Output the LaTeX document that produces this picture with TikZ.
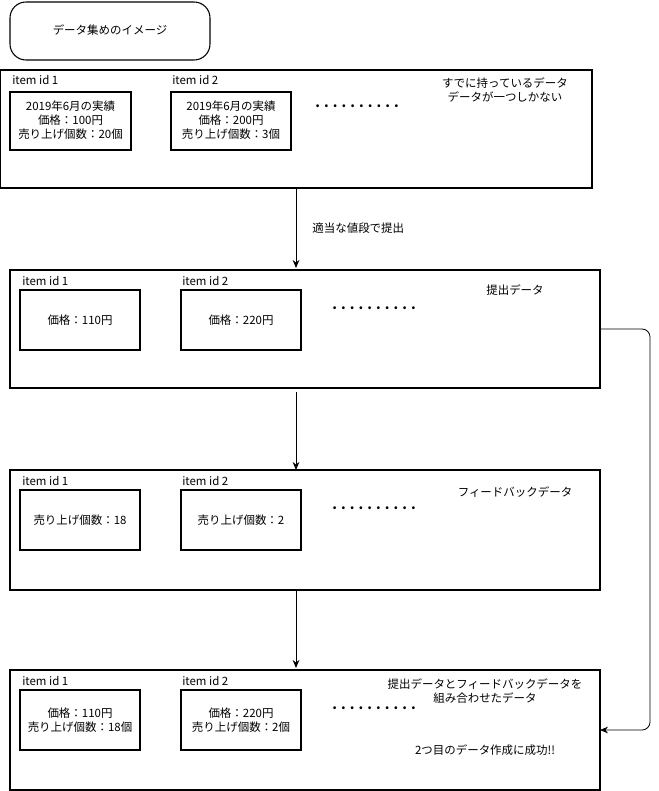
\documentclass[tikz,border=0pt]{standalone}
\usepackage{fontspec}
\setmainfont{Noto Sans CJK JP}
\usetikzlibrary{arrows.meta}
\begin{document}
\begin{tikzpicture}[x=0.75pt,y=-0.75pt,
 box/.style={draw,line width=0.8pt},
 t/.style={font=\fontsize{8.6pt}{10.3pt}\selectfont,inner sep=0pt,align=center},
 l/.style={t,anchor=west},
 dots/.style={font=\fontsize{10pt}{12pt}\bfseries\selectfont,inner sep=0pt},
 arr/.style={-{Stealth[length=6pt,width=5pt]},line width=0.6pt}]
\useasboundingbox (0,0) rectangle (659,791);
\draw[box,rounded corners=12pt] (10,2) rectangle (210,60);
\node[t] (title) at (110,30) {データ集めのイメージ};
% box 1
\draw[box] (0,70) rectangle (592,188);
\node[l] at (12,80) {item id 1};
\node[l] at (172,80) {item id 2};
\draw[box] (10,92) rectangle (131,150); \draw[box] (171,92) rectangle (291,150);
\node[t] at (70.5,120) {2019年6月の実績\\価格：100円\\売り上げ個数：20個};
\node[t] at (231,120) {2019年6月の実績\\価格：200円\\売り上げ個数：3個};
\node[dots] at (357,106) {. . . . . . . . . .};
\node[t] at (505,90) {すでに持っているデータ\\データが一つしかない};
% box 2
\draw[box] (10,270) rectangle (600,388);
\node[l] at (22,281) {item id 1};
\node[l] at (182,281) {item id 2};
\draw[box] (20,290) rectangle (140,350); \draw[box] (181,290) rectangle (301,350);
\node[t] at (80,320) {価格：110円};
\node[t] at (241,320) {価格：220円};
\node[dots] at (374,308) {. . . . . . . . . .};
\node[t] at (515,290) {提出データ};
% box 3
\draw[box] (10,470) rectangle (600,590);
\node[l] at (22,481) {item id 1};
\node[l] at (182,481) {item id 2};
\draw[box] (20,490) rectangle (140,550); \draw[box] (181,490) rectangle (301,550);
\node[t] at (80,520) {売り上げ個数：18};
\node[t] at (241,520) {売り上げ個数：2};
\node[dots] at (374,508) {. . . . . . . . . .};
\node[t] at (515,492) {フィードバックデータ};
% box 4
\draw[box] (10,670) rectangle (600,790);
\node[l] at (22,681) {item id 1};
\node[l] at (182,681) {item id 2};
\draw[box] (20,690) rectangle (140,750); \draw[box] (181,690) rectangle (301,750);
\node[t] at (80,720) {価格：110円\\売り上げ個数：18個};
\node[t] at (241,720) {価格：220円\\売り上げ個数：2個};
\node[dots] at (374,708) {. . . . . . . . . .};
\node[t] at (485,691) {提出データとフィードバックデータを\\組み合わせたデータ};
\node[t] at (485,750) {2つ目のデータ作成に成功!!};
% connectors
\coordinate (a1) at (296,188); \coordinate (a2) at (296,268);
\coordinate (c1) at (296,392); \coordinate (c2) at (296,470);
\coordinate (d1) at (296,590); \coordinate (d2) at (296,668);
\draw[arr] (a1) -- (a2) node[midway,right=12pt,t] {適当な値段で提出};
\draw[arr] (c1) -- (c2);
\draw[arr] (d1) -- (d2);
\coordinate (e1) at (600,329); \coordinate (e2) at (600,730);
\draw[arr,rounded corners=6pt] (e1) -- (650,329) -- (650,730) -- (e2);
\end{tikzpicture}
\end{document}
